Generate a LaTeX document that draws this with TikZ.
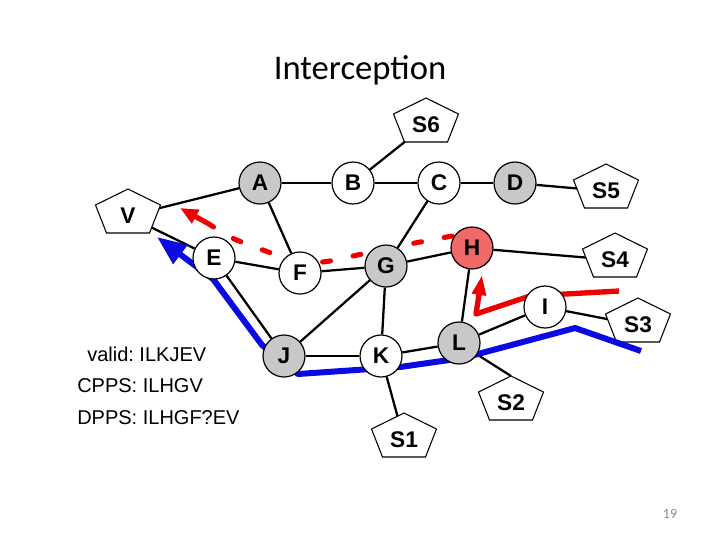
\documentclass[tikz,border=0pt]{standalone}
\usepackage{fontspec}
\setmainfont{Liberation Sans}
\newfontfamily\titlefont{Carlito}
\usetikzlibrary{arrows.meta}
\pgfdeclarelayer{edges}
\pgfdeclarelayer{shapes}
\pgfdeclarelayer{paths}
\pgfsetlayers{edges,shapes,paths,main}
\definecolor{nodegray}{RGB}{200,200,200}
\definecolor{hred}{RGB}{240,104,104}
\definecolor{pathred}{RGB}{236,0,0}
\definecolor{pathblue}{RGB}{10,10,225}
\definecolor{pagegray}{RGB}{140,140,140}
\tikzset{
  rnode/.style={circle,draw=black,line width=0.9pt,fill=white,minimum size=31.5pt,inner sep=0pt,font=\fontsize{17}{18}\selectfont\bfseries},
  gnode/.style={rnode,fill=nodegray},
  hnode/.style={rnode,fill=hred},
  pnode/.style={inner sep=0pt,font=\fontsize{17}{18}\selectfont\bfseries},
  pentline/.style={draw=black,line width=0.8pt,fill=white,line join=miter},
  link/.style={line width=1.7pt},
  infotext/.style={anchor=base west,inner sep=0pt,font=\fontsize{15}{18}\selectfont\frenchspacing},
  redtrail/.style={draw=pathred,line width=3.8pt,line cap=round,dash pattern=on 6pt off 17.25pt},
  redsolid/.style={draw=pathred,line width=4pt,line join=round},
  bluesolid/.style={draw=pathblue,line width=4.5pt,line join=round},
}
\newcommand\pentat[1]{\draw[pentline] ([shift={(0,-27)}]#1.center) -- ([shift={(32.5,-11)}]#1.center) -- ([shift={(21.5,17)}]#1.center) -- ([shift={(-21.5,17)}]#1.center) -- ([shift={(-32.5,-11)}]#1.center) -- cycle;}
\begin{document}
\begin{tikzpicture}[x=0.75pt,y=-0.75pt]
\useasboundingbox (0,0) rectangle (720,540);
% title and page number
\node[anchor=base,inner sep=0pt,font=\titlefont\fontsize{26}{30}\selectfont] (title) at (360,79) {Interception};
\node[anchor=base,inner sep=0pt,font=\titlefont\fontsize{10.5}{12}\selectfont,text=pagegray] (pg) at (670,518) {19};
% circle nodes
\node[gnode] (A) at (260,183) {A};
\node[rnode] (B) at (353,183) {B};
\node[rnode] (C) at (439,183) {C};
\node[gnode] (D) at (515,183) {D};
\node[rnode] (E) at (214,258) {E};
\node[rnode] (F) at (300,273) {F};
\node[gnode] (G) at (386,266) {G};
\node[hnode] (H) at (472,248) {H};
\node[rnode] (I) at (545,307) {I};
\node[gnode] (J) at (284,356) {J};
\node[rnode] (K) at (381,356) {K};
\node[gnode] (L) at (459,343) {L};
% pentagon nodes
\node[pnode] (S6) at (426,125) {S6};
\node[pnode] (S5) at (606,191) {S5};
\node[pnode] (V) at (128,216) {V};
\node[pnode] (S4) at (615,260) {S4};
\node[pnode] (S3) at (638,325) {S3};
\node[pnode] (S2) at (511,403) {S2};
\node[pnode] (S1) at (404,440) {S1};
% texts
\node[infotext] (valid) at (87,361) {valid: ILKJEV};
\node[infotext] (cpps) at (77,392) {CPPS: ILHGV};
\node[infotext] (dpps) at (77,424) {DPPS: ILHGF?EV};
% pentagon outlines
\begin{pgfonlayer}{shapes}
\pentat{S6}\pentat{S5}\pentat{V}\pentat{S4}\pentat{S3}\pentat{S2}\pentat{S1}
\end{pgfonlayer}
% edges
\begin{pgfonlayer}{edges}
\draw[link] (V) -- (A);
\draw[link] (V) -- (E);
\draw[link] (A) -- (B);
\draw[link] (A) -- (F);
\draw[link] (B) -- (S6);
\draw[link] (B) -- (C);
\draw[link] (C) -- (D);
\draw[link] (C) -- (G);
\draw[link] (D) -- (S5);
\draw[link] (E) -- (F);
\draw[link] (E) -- (J);
\draw[link] (F) -- (G);
\draw[link] (J) -- (G);
\draw[link] (G) -- (H);
\draw[link] (G) -- (K);
\draw[link] (H) -- (S4);
\draw[link] (H) -- (L);
\draw[link] (I) -- (L);
\draw[link] (I) -- (S3);
\draw[link] (J) -- (K);
\draw[link] (K) -- (L);
\draw[link] (K) -- (S1);
\draw[link] (L.center) -- ([shift={(0,-27)}]S2.center);
\end{pgfonlayer}
% coloured paths
\begin{pgfonlayer}{paths}
\coordinate (rd0) at (452,236);
\coordinate (rdA) at (209,224);
\coordinate (rdtip) at (180,208);
\draw[redtrail] plot[smooth] coordinates {(rd0) (415,243) (385,249) (353,256) (322,262) (291,259) (260,249) (230,237) (rdA)};
\draw[draw=pathred,line width=3.8pt,-{Triangle[length=13.5pt,width=11pt]}] (rdA) -- (rdtip);
\coordinate (rs0) at (619,291);
\coordinate (rs1) at (530,296);
\coordinate (rs2) at (476,314);
\coordinate (rstip) at (482,275);
\draw[redsolid,-{Triangle[length=15pt,width=10pt]}] (rs0) -- (rs1) -- (rs2) -- (rstip);
\coordinate (b0) at (641,351);
\coordinate (btip) at (157,237);
\draw[bluesolid,-{Triangle[length=22pt,width=17pt]}] (b0) -- (575,328) -- (463,358) -- (400,367) -- (298,374) -- (262,345) -- (213,279) -- (btip);
\end{pgfonlayer}
\end{tikzpicture}
\end{document}
